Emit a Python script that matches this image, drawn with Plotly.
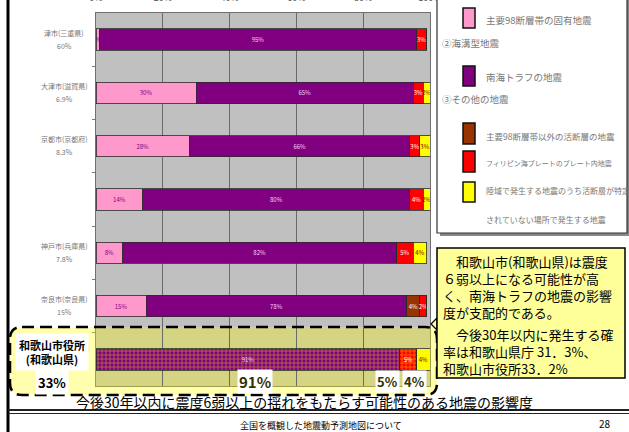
import plotly.graph_objects as go

# ---------------- data ----------------
cities = ["津市(三重県)", "大津市(滋賀県)", "京都市(京都府)", "", "神戸市(兵庫県)",
          "奈良市(奈良県)", "和歌山市役所(和歌山県)"]
probs = ["60%", "6.9%", "8.3%", "", "7.8%", "15%", "33%"]

series_names = ["主要98断層帯の固有地震", "南海トラフの地震", "主要98断層帯以外の活断層の地震",
                "フィリピン海プレートのプレート内地震",
                "陸域で発生する地震のうち活断層が特定<br>されていない場所で発生する地震"]
pink = [1, 30, 28, 14, 8, 15, 0]
purple = [95, 65, 66, 80, 82, 78, 91]
brown = [0, 0, 0, 0, 0, 4, 0]
red = [3, 3, 3, 4, 5, 2, 5]
yellow = [0, 2, 3, 2, 4, 0, 4]

x_tick_vals = [0, 20, 40, 60, 80, 100]
x_tick_text = ["0%", "20%", "40%", "60%", "80%", "100%"]

legend_headers = ["②海溝型地震", "③その他の地震"]
caption = "今後30年以内に震度6弱以上の揺れをもたらす可能性のある地震の影響度"
footer = "全国を概観した地震動予測地図について"
page_no = "28"
note1 = "　和歌山市(和歌山県)は震度<br>６弱以上になる可能性が高<br>く、南海トラフの地震の影響<br>度が支配的である。"
note2 = "　今後30年以内に発生する確<br>率は和歌山県庁 31．3%、<br>和歌山市役所33．2%"

# ---------------- layout helpers ----------------
W, H = 629, 432
PL, PR, PT, PB = 96, 430, 13, 386


def X(px):
    return (px - PL) / (PR - PL)


def Y(py):
    return (PB - py) / (PB - PT)


def rrect(x0, y0, x1, y1, rl, rr):
    return (f"M {X(x0 + rl)},{Y(y0)} L {X(x1 - rr)},{Y(y0)} Q {X(x1)},{Y(y0)} {X(x1)},{Y(y0 + rr)} "
            f"L {X(x1)},{Y(y1 - rr)} Q {X(x1)},{Y(y1)} {X(x1 - rr)},{Y(y1)} "
            f"L {X(x0 + rl)},{Y(y1)} Q {X(x0)},{Y(y1)} {X(x0)},{Y(y1 - rl)} "
            f"L {X(x0)},{Y(y0 + rl)} Q {X(x0)},{Y(y0)} {X(x0 + rl)},{Y(y0)} Z")


def note(px, py, text, size, color="black", xanchor="center", align="center", **kw):
    return dict(xref="paper", yref="paper", x=X(px), y=Y(py), text=text, showarrow=False,
                xanchor=xanchor, yanchor="middle", align=align,
                font=dict(size=size, color=color, family=FONT), **kw)


FONT = "Noto Sans CJK JP, Noto Sans, sans-serif"
ypos = list(range(len(cities)))
n = len(cities)

series = [pink, purple, brown, red, yellow]
colors = ["#FF99CC", "#800080", "#993300", "#FF0000", "#FFFF00"]
text_colors = ["#800080", "#FFCCFF", "#FFFFFF", "#FFFFFF", "#800000"]

fig = go.Figure()
for name, vals, col, tcol in zip(series_names, series, colors, text_colors):
    fig.add_trace(go.Bar(
        y=ypos, x=vals, orientation="h", name=name, width=0.4,
        marker=dict(color=col, line=dict(color="#2a2a2a", width=0.8),
                    pattern=dict(shape=[""] * (n - 1) + ["+"], fgcolor="#F0F000",
                                 size=4, solidity=0.35, fillmode="overlay")),
        text=[f"{v}%" if v > 0 else "" for v in vals],
        textposition="inside", insidetextanchor="middle", textangle=0,
        constraintext="none",
        textfont=dict(size=6, color=tcol, family=FONT),
        hoverinfo="skip", showlegend=False,
    ))

shapes = []
annotations = []

# slide decorations
shapes.append(dict(type="line", xref="paper", yref="paper", x0=X(8), x1=X(8), y0=Y(-2), y1=Y(434),
                   line=dict(color="black", width=3)))
shapes.append(dict(type="line", xref="paper", yref="paper", x0=X(8), x1=X(630), y0=Y(410), y1=Y(410),
                   line=dict(color="#222", width=2)))
shapes.append(dict(type="line", xref="paper", yref="paper", x0=X(8), x1=X(630), y0=Y(413.5), y1=Y(413.5),
                   line=dict(color="#222", width=1)))

# dashed highlight around Wakayama row (mesh tint under the bars inside the plot)
MESH = "rgba(255,255,0,0.32)"
wk_top = -0.5 + (327 - PT) / ((PB - PT) / n)
shapes.append(dict(type="rect", xref="x", yref="y", x0=0, x1=100, y0=wk_top, y1=n - 0.5,
                   fillcolor=MESH, line=dict(width=0), layer="below"))
shapes.append(dict(type="path", xref="paper", yref="paper", path=rrect(10, 327, PL, 395, 12, 0),
                   fillcolor=MESH, line=dict(width=0), layer="above"))
shapes.append(dict(type="path", xref="paper", yref="paper", path=rrect(PL, 386, PR, 395, 0, 0),
                   fillcolor=MESH, line=dict(width=0), layer="above"))
shapes.append(dict(type="path", xref="paper", yref="paper", path=rrect(PR, 327, 437, 395, 0, 7),
                   fillcolor=MESH, line=dict(width=0), layer="above"))
shapes.append(dict(type="path", xref="paper", yref="paper", path=rrect(10, 327, 437, 395, 12, 12),
                   fillcolor="rgba(0,0,0,0)", line=dict(color="black", width=2.5, dash="12px,6px"),
                   layer="above"))

# legend box
shapes.append(dict(type="rect", xref="paper", yref="paper", x0=X(440), x1=X(631), y0=Y(-5), y1=Y(236),
                   fillcolor="#888", line=dict(width=0), layer="above"))
shapes.append(dict(type="rect", xref="paper", yref="paper", x0=X(437), x1=X(627), y0=Y(-5), y1=Y(233),
                   fillcolor="white", line=dict(color="#333", width=1.2), layer="above"))
sw_y = [(8, 28), (66, 86), (123, 144), (151, 172), (182, 202)]
txt_y = [20, 77, 136, 163, 190]
txt_size = [9.5, 9.5, 8.5, 7, 8]
for (a, b), col, ty, name, fs in zip(sw_y, colors, txt_y, series_names, txt_size):
    shapes.append(dict(type="rect", xref="paper", yref="paper", x0=X(463), x1=X(475), y0=Y(a), y1=Y(b),
                       fillcolor=col, line=dict(color="#111", width=1.5), layer="above"))
    for k, ln in enumerate(name.split("<br>")):
        annotations.append(note(484, ty + 30 * k, ln, fs, "#777", xanchor="left", align="left"))
for hy, ht in zip([43, 99], legend_headers):
    annotations.append(note(440, hy, ht, 9.5, "#777", xanchor="left", align="left"))

# note box
shapes.append(dict(type="path", xref="paper", yref="paper",
                   path=f"M {X(437)},{Y(318)} L {X(431)},{Y(324)} L {X(437)},{Y(330)} Z",
                   fillcolor="#FFFF99", line=dict(color="black", width=1.2), layer="above"))
shapes.append(dict(type="rect", xref="paper", yref="paper", x0=X(437), x1=X(625), y0=Y(248), y1=Y(378),
                   fillcolor="#FFFF99", line=dict(color="black", width=1.5), layer="above"))
annotations.append(note(441, 286.5, note1, 13, xanchor="left", align="left"))
annotations.append(note(441, 351.5, note2, 13, xanchor="left", align="left"))

# small category labels
for i in range(n - 1):
    if cities[i]:
        annotations.append(dict(xref="paper", yref="y", x=X(64), y=i, yshift=7, text=cities[i],
                                xanchor="center", yanchor="middle", showarrow=False,
                                font=dict(size=7, color="#777", family=FONT)))
    if probs[i]:
        annotations.append(dict(xref="paper", yref="y", x=X(64), y=i, yshift=-6, text=probs[i],
                                xanchor="center", yanchor="middle", showarrow=False,
                                font=dict(size=7, color="#777", family=FONT)))

# Wakayama emphasised labels
wk = n - 1
wk_name = cities[wk].replace("(", "<br>(")
annotations.append(note(52, 352, f"<b>{wk_name}</b>", 11, bgcolor="white", borderpad=3))
annotations.append(note(52, 382, f"<b>{probs[wk]}</b>", 13, bgcolor="white", borderpad=2))
for val, px, fs in [(purple[wk], 255, 15), (red[wk], 387, 13), (yellow[wk], 414, 13)]:
    annotations.append(note(px, 381.5, f"<b>{val}%</b>", fs, "#333300", bgcolor="white", borderpad=1))

# captions
annotations.append(note(304, 402.5, caption, 14))
annotations.append(note(321, 425, footer, 9))
annotations.append(note(605, 423, page_no, 10))

fig.update_layout(
    width=W, height=H, barmode="stack",
    margin=dict(l=PL, r=W - PR, t=PT, b=H - PB, pad=0, autoexpand=False),
    paper_bgcolor="white", plot_bgcolor="#C0C0C0",
    font=dict(family=FONT),
    shapes=shapes, annotations=annotations,
    xaxis=dict(side="top", range=[0, 100], tickvals=x_tick_vals, ticktext=x_tick_text,
               tickfont=dict(size=9, color="#555"), showgrid=True, gridcolor="#6a6a6a", gridwidth=1,
               showline=True, linecolor="#707070", mirror=True, zeroline=False, ticks="",
               ticklabelstandoff=7, automargin=False, fixedrange=True),
    yaxis=dict(range=[n - 0.5, -0.5], showticklabels=False, showgrid=False, zeroline=False,
               tickvals=[i + 0.5 for i in range(n - 1)], ticks="outside", ticklen=3, tickcolor="#777",
               showline=True, linecolor="#707070", mirror=True, automargin=False, fixedrange=True),
)

fig.write_html("out.html")
